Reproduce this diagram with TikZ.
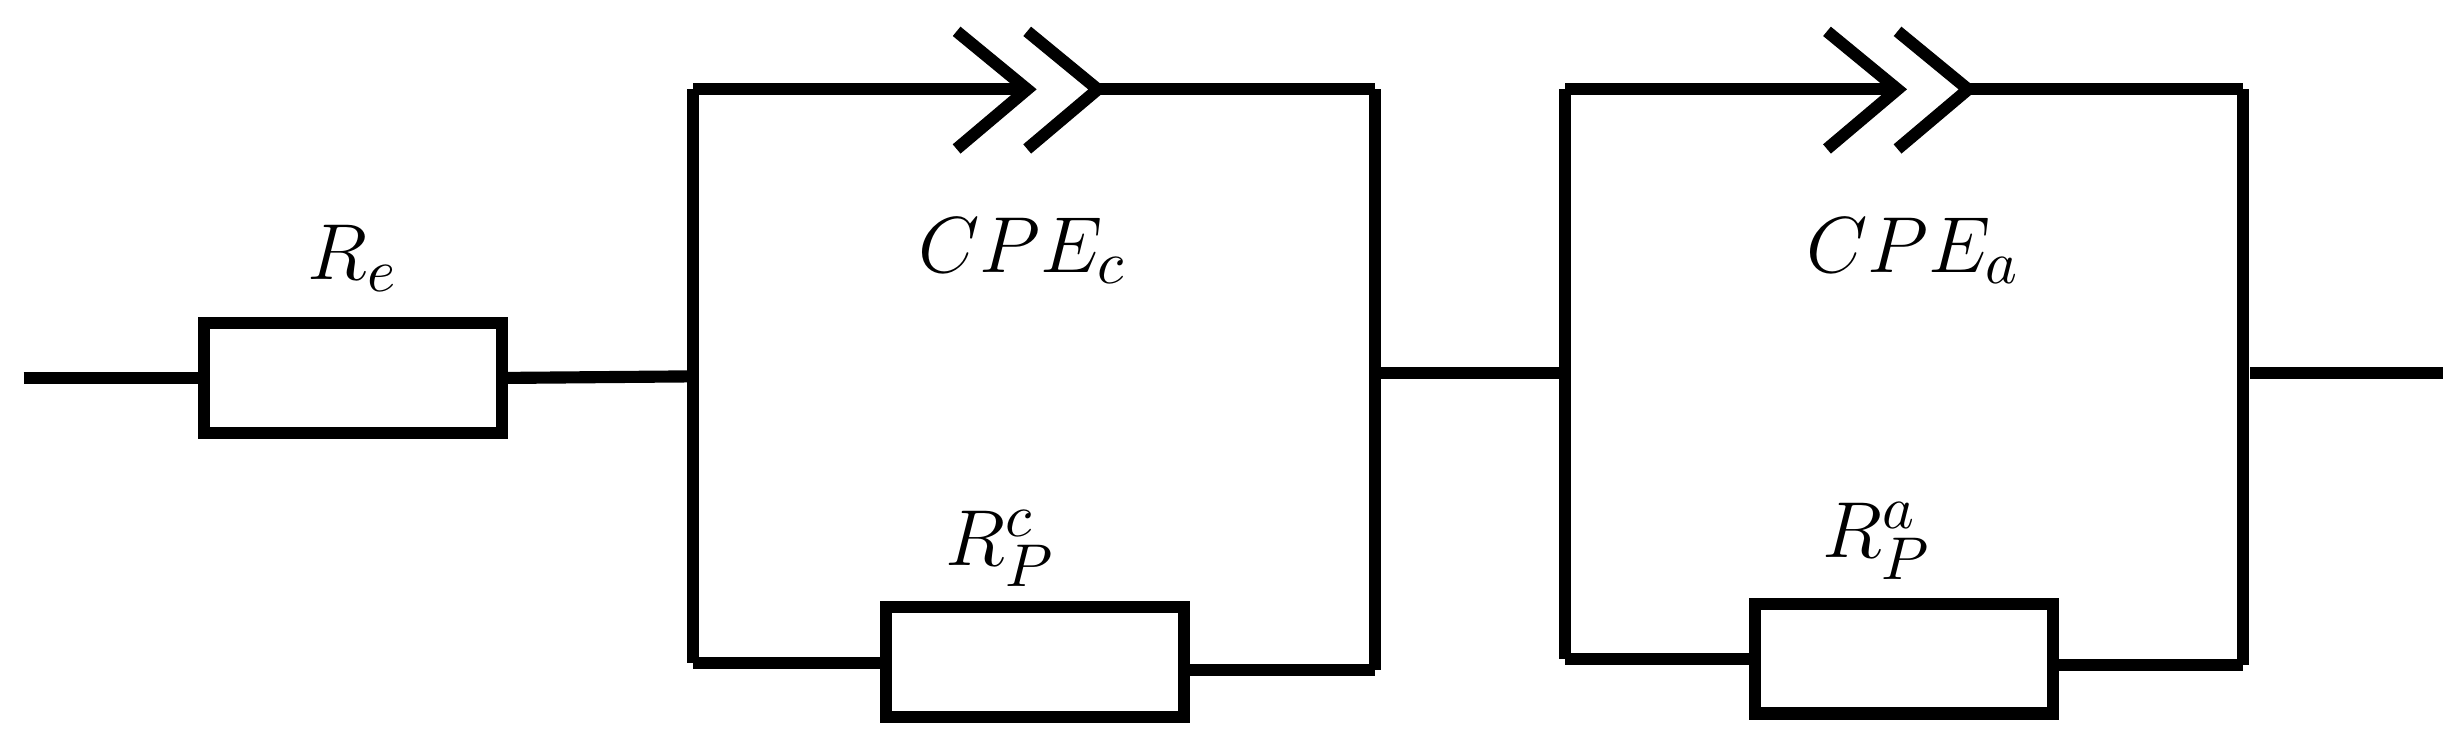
\documentclass[tikz,border=0pt]{standalone}
\begin{document}
\begin{tikzpicture}[x=0.01cm,y=-0.01cm,line width=2.2pt,
  res/.style={draw,line width=2.2pt,minimum width=1.9cm,minimum height=0.7cm,inner sep=0pt},
  lab/.style={font=\fontsize{15.5}{19}\selectfont}]
\useasboundingbox (0,0) rectangle (1568,474);
% Re
\coordinate (in) at (15,241);
\node[res] (Re) at (225,241) {};
\node[lab] at (225,165) {$R_e$};
\draw (in) -- (Re.west);
% box 1
\coordinate (A1) at (442,240); \coordinate (A1t) at (442,57); \coordinate (A1b) at (442,423);
\coordinate (B1) at (877,238); \coordinate (B1t) at (877,57); \coordinate (B1b) at (877,427);
\draw (Re.east) -- (A1);
\draw (A1t) -- (A1b);
\draw (B1t) -- (B1b);
\coordinate (c1a) at (655,57); \coordinate (c1b) at (700,57);
\draw (A1t) -- (c1a);
\draw (610,20) -- (c1a) -- (610,95);
\draw (655,20) -- (c1b) -- (655,95);
\draw (c1b) -- (B1t);
\node[lab] at (652,160) {$CPE_c$};
\node[res] (Rc) at (660,422) {};
\node[lab] at (638,350) {$R_P^c$};
\draw (A1b) -- (Rc.west |- A1b);
\draw (Rc.east |- B1b) -- (B1b);
% box 2
\coordinate (A2) at (998,238); \coordinate (A2t) at (998,57); \coordinate (A2b) at (998,420);
\coordinate (B2) at (1430,238); \coordinate (B2t) at (1430,57); \coordinate (B2b) at (1430,424);
\draw (B1) -- (A2);
\draw (A2t) -- (A2b);
\draw (B2t) -- (B2b);
\coordinate (c2a) at (1210,57); \coordinate (c2b) at (1255,57);
\draw (A2t) -- (c2a);
\draw (1165,20) -- (c2a) -- (1165,95);
\draw (1210,20) -- (c2b) -- (1210,95);
\draw (c2b) -- (B2t);
\node[lab] at (1220,160) {$CPE_a$};
\node[res] (Ra) at (1214,420) {};
\node[lab] at (1197,345) {$R_P^a$};
\draw (A2b) -- (Ra.west |- A2b);
\draw (Ra.east |- B2b) -- (B2b);
% out
\coordinate (out) at (1558,238);
\draw (1435,238) -- (out);
\end{tikzpicture}
\end{document}
